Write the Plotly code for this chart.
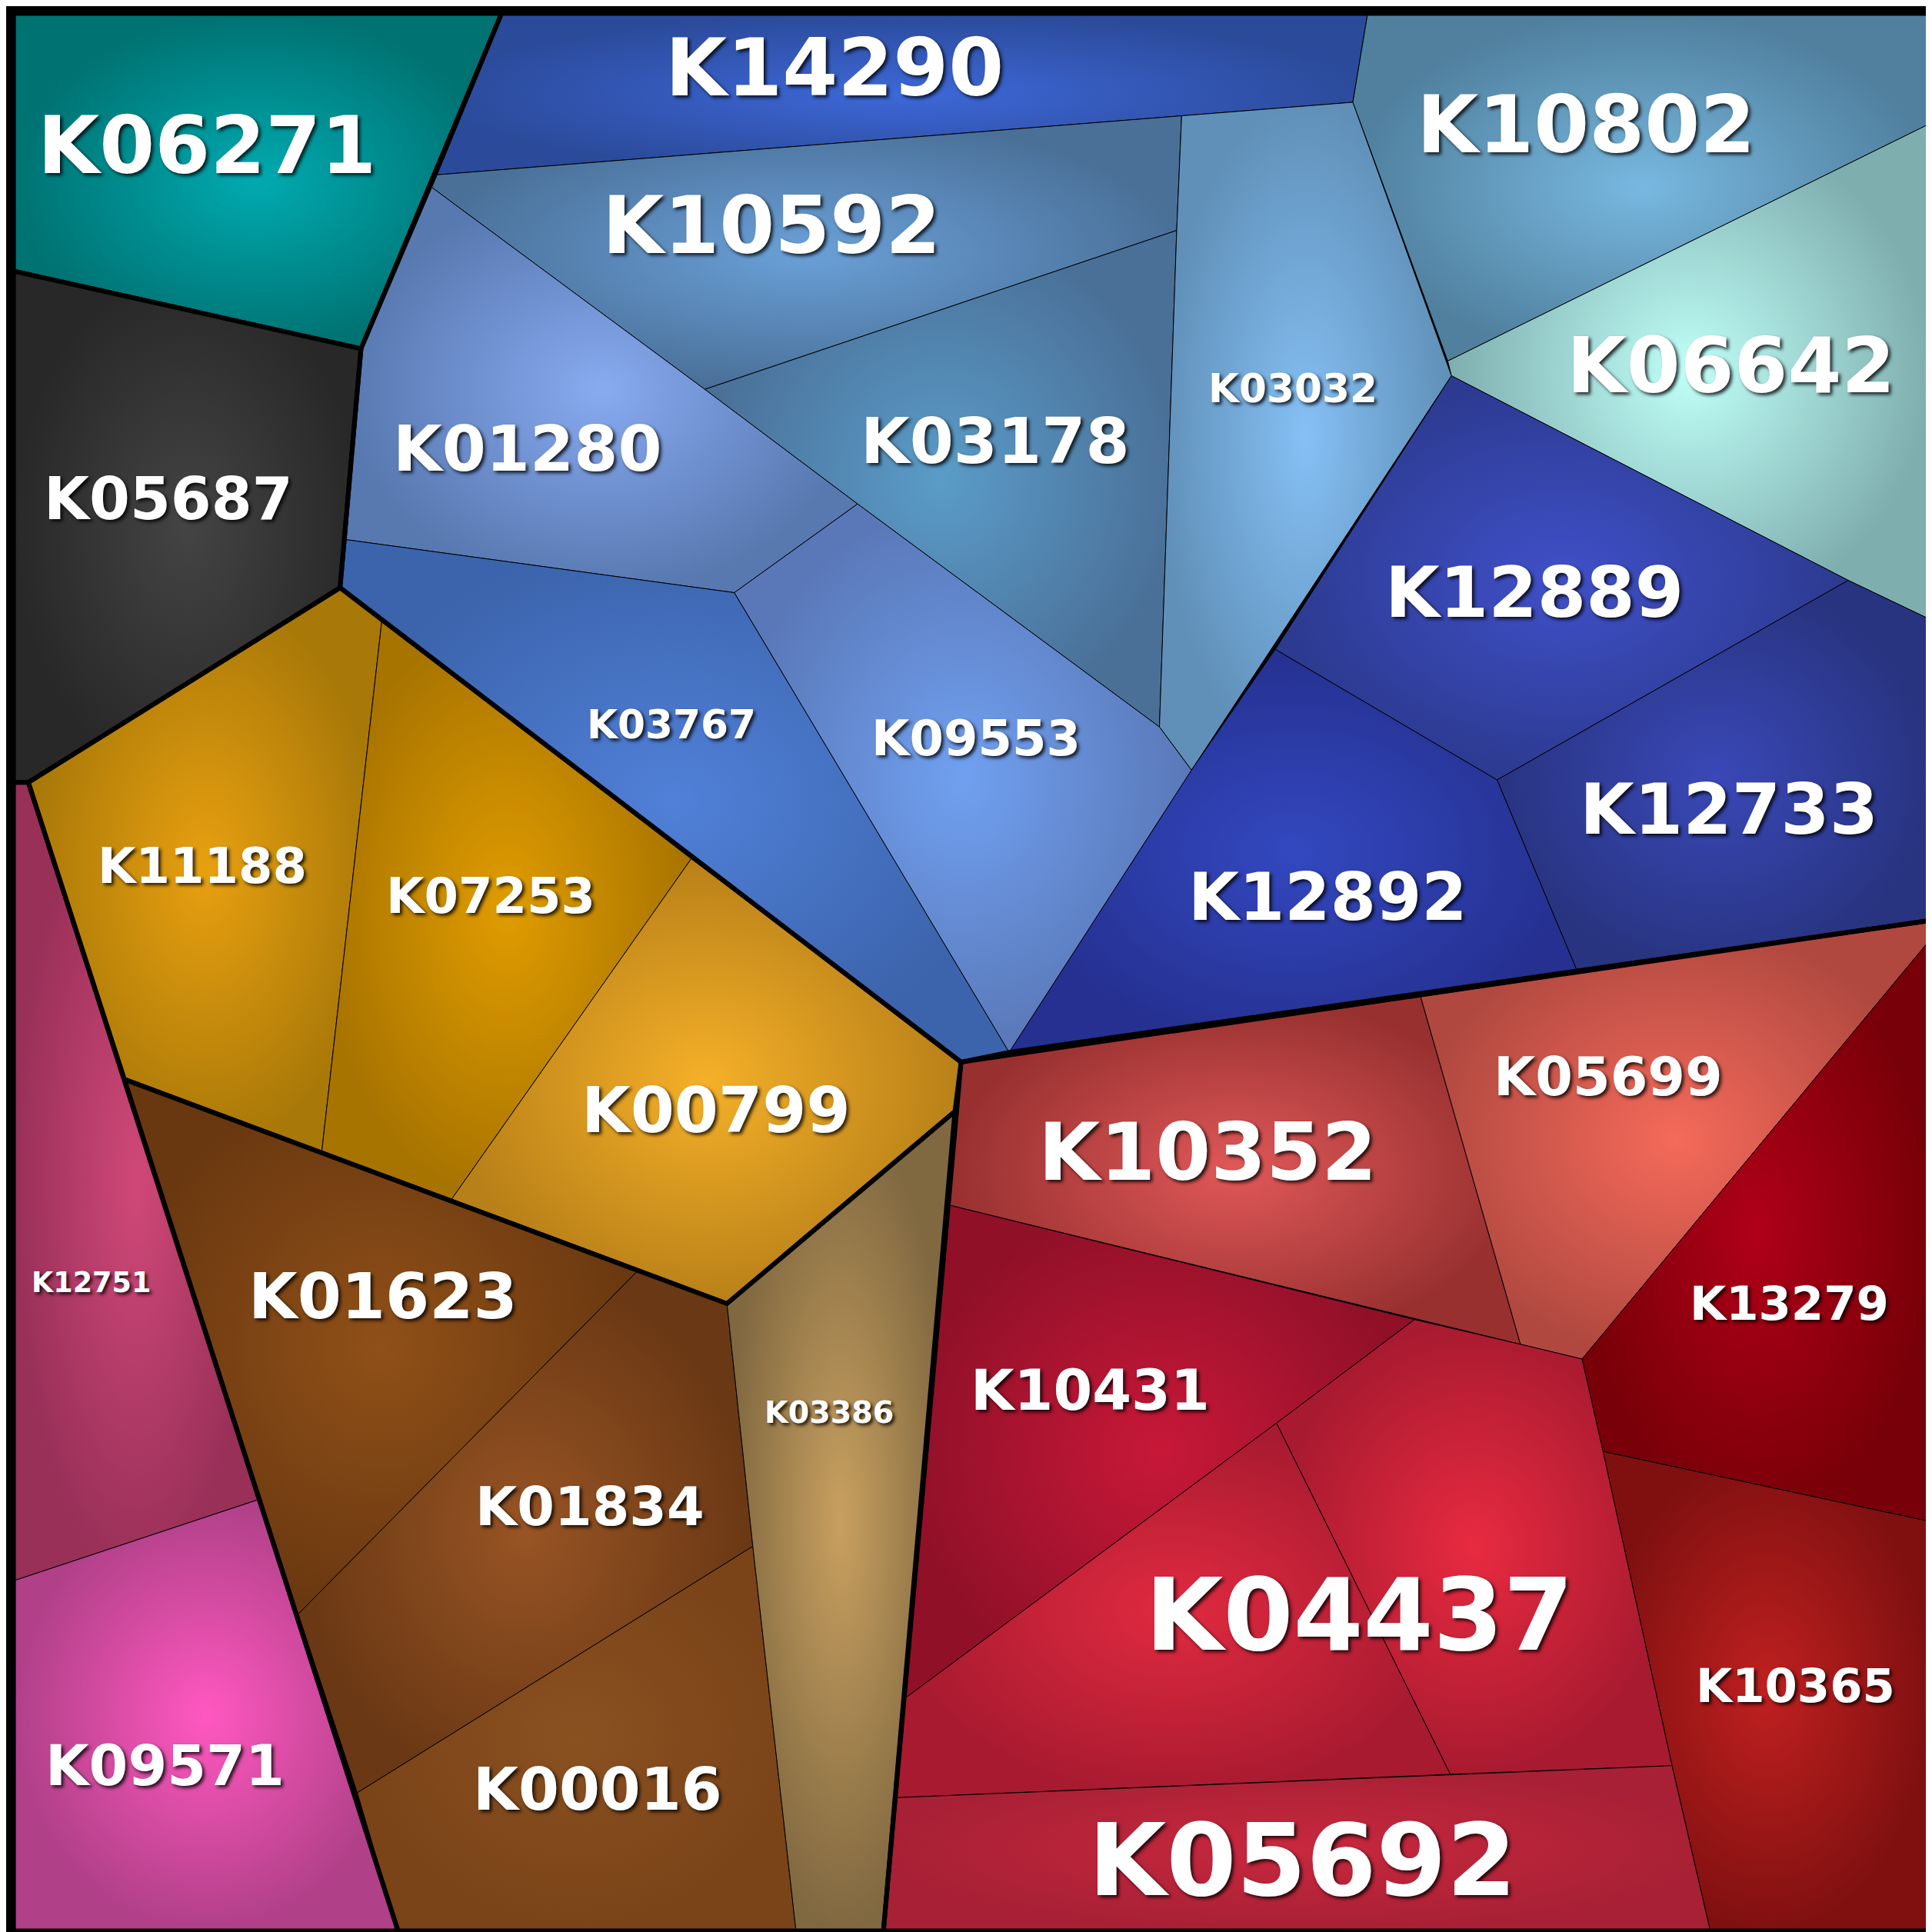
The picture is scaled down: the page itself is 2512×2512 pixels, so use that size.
import plotly.graph_objects as go

S = 2512/1568
names = ["K06271","K14290","K10592","K03178","K03032","K10802","K06642","K12889","K12733","K12892",
         "K01280","K03767","K09553","K05687","K11188","K07253","K00799","K12751","K09571","K01623",
         "K01834","K00016","K03386","K10352","K05699","K13279","K10365","K10431","K04437","K04437","K05692"]
cells = [
 [(6,6),(402,6),(288,278),(6,215)],
 [(402,6),(1105,6),(1093,78),(954,89),(348,137)],
 [(348,137),(954,89),(950,182),(567,311),(344,146)],
 [(567,311),(950,182),(936,585),(691,404)],
 [(954,89),(1093,78),(1173,300),(962,620),(936,585),(950,182)],
 [(1105,6),(1562,6),(1562,95),(1170,288),(1093,78)],
 [(1170,288),(1562,95),(1562,498),(1495,466),(1173,300)],
 [(1173,300),(1495,466),(1210,628),(1030,522)],
 [(1495,466),(1562,498),(1562,742),(1275,783),(1210,628)],
 [(1030,522),(1210,628),(1275,783),(814,849),(962,620)],
 [(344,146),(567,311),(691,404),(591,476),(276,433),(288,278)],
 [(276,433),(591,476),(814,849),(775,857),(271,472)],
 [(591,476),(691,404),(936,585),(962,620),(814,849)],
 [(6,215),(288,278),(271,472),(18,630),(6,630)],
 [(18,630),(271,472),(305,498),(256,931),(96,871)],
 [(305,498),(556,692),(361,969),(256,931)],
 [(556,692),(775,857),(770,897),(585,1053),(361,969)],
 [(6,630),(18,630),(96,871),(205,1212),(6,1278)],
 [(6,1278),(205,1212),(318,1562),(6,1562)],
 [(96,871),(512,1027),(237,1305),(205,1212)],
 [(237,1305),(512,1027),(585,1053),(606,1250),(285,1450)],
 [(285,1450),(606,1250),(641,1562),(318,1562)],
 [(585,1053),(770,897),(712,1562),(641,1562),(606,1250)],
 [(775,857),(1148,804),(1229,1086),(765,973),(770,897)],
 [(1148,804),(1562,742),(1562,757),(1279,1098),(1229,1086)],
 [(1562,757),(1562,1230),(1296,1173),(1279,1098)],
 [(1296,1173),(1562,1230),(1562,1562),(1383,1562),(1352,1428)],
 [(765,973),(1143,1066),(1031,1150),(730,1373)],
 [(1031,1150),(1143,1066),(1229,1086),(1279,1098),(1296,1173),(1352,1428),(1172,1435)],
 [(730,1373),(1031,1150),(1172,1435),(722,1454)],
 [(722,1454),(1352,1428),(1383,1562),(712,1562)],
]
edge = ["#007272","#2b4a9a","#4a7098","#4a7098","#6090b8","#50809e","#7eaeae","#2c3a90","#283480","#253090",
        "#5878b0","#3c64ac","#5a78b8","#282828","#a87808","#a87400","#b88018","#983058","#b04088","#6a3810",
        "#6a3814","#7a4418","#806840","#983030","#b04840","#780008","#801010","#901028","#a81a30","#a81a30","#a82035"]
center = ["#00aab0","#3d68d8","#6aa0d8","#5a9cc8","#85c0f5","#78b8e0","#c0fff8","#4050c8","#3a48b8","#3348c0",
          "#88aaf0","#5080d8","#70a0f0","#444444","#e8a010","#e09c00","#f5b028","#d04878","#ff58c0","#905018",
          "#985424","#8a5020","#c8a060","#e05858","#f56a5a","#b00018","#c02020","#c81838","#e82a40","#e02a40","#c8283e"]
groups = [
 [(6,6),(402,6),(288,278),(6,215)],
 [(348,137),(402,6),(1562,6),(1562,742),(814,849),(775,857),(271,472),(288,278)],
 [(6,215),(288,278),(271,472),(18,630),(6,630)],
 [(271,472),(775,857),(770,897),(585,1053),(96,871),(18,630)],
 [(96,871),(585,1053),(770,897),(712,1562),(318,1562)],
 [(6,630),(18,630),(318,1562),(6,1562)],
 [(775,857),(1562,742),(1562,1562),(712,1562)],
]
labels = ["K06271","K14290","K10592","K10802","K06642","K03032","K03178","K01280","K05687","K12889",
          "K12733","K12892","K03767","K09553","K11188","K07253","K00799","K10352","K05699","K12751",
          "K01623","K13279","K03386","K10431","K01834","K04437","K10365","K09571","K00016","K05692"]
lx = [163,672,621,1282,1400,1044,803,423,132,1240,1398,1073,540,787,159,393,576,975,1300,69,306,1447,668,880,474,1098,1452,129,480,1052]
ly = [113,50,178,96,292,310,353,359,400,476,652,723,583,594,698,722,896,930,869,1036,1047,1053,1141,1123,1218,1306,1363,1428,1447,1505]
fs = [68,68,68,68,66,34,54,54,50,60,60,56,34,42,42,42,54,68,46,24,54,40,26,48,46,86,40,48,50,86]

fig = go.Figure()
for n, c, e, m in zip(names, cells, edge, center):
    xs = [p[0] for p in c] + [c[0][0]]
    ys = [p[1] for p in c] + [c[0][1]]
    fig.add_trace(go.Scatter(x=xs, y=ys, mode="lines", fill="toself", name=n,
        line=dict(color="black", width=1),
        fillgradient=dict(type="radial", colorscale=[[0, m], [1, e]]),
        hoverinfo="name"))
for g in groups:
    fig.add_trace(go.Scatter(x=[p[0] for p in g]+[g[0][0]], y=[p[1] for p in g]+[g[0][1]],
        mode="lines", line=dict(color="black", width=6), hoverinfo="skip"))
for t, x, y, f in zip(labels, lx, ly, fs):
    fig.add_annotation(x=x, y=y, text=t, showarrow=False,
        font=dict(family="DejaVu Sans", size=f*S*0.95, color="white", weight="bold",
                  shadow="3px 3px 4px rgba(0,0,0,0.8)"))
fig.add_shape(type="rect", x0=4, y0=4, x1=1564, y1=1564, line=dict(color="black", width=10))
fig.update_layout(width=2512, height=2512, margin=dict(l=0, r=0, t=0, b=0), showlegend=False,
    paper_bgcolor="black", plot_bgcolor="black",
    xaxis=dict(range=[0, 1568], visible=False), yaxis=dict(range=[1568, 0], visible=False))
fig.write_html("out.html")
